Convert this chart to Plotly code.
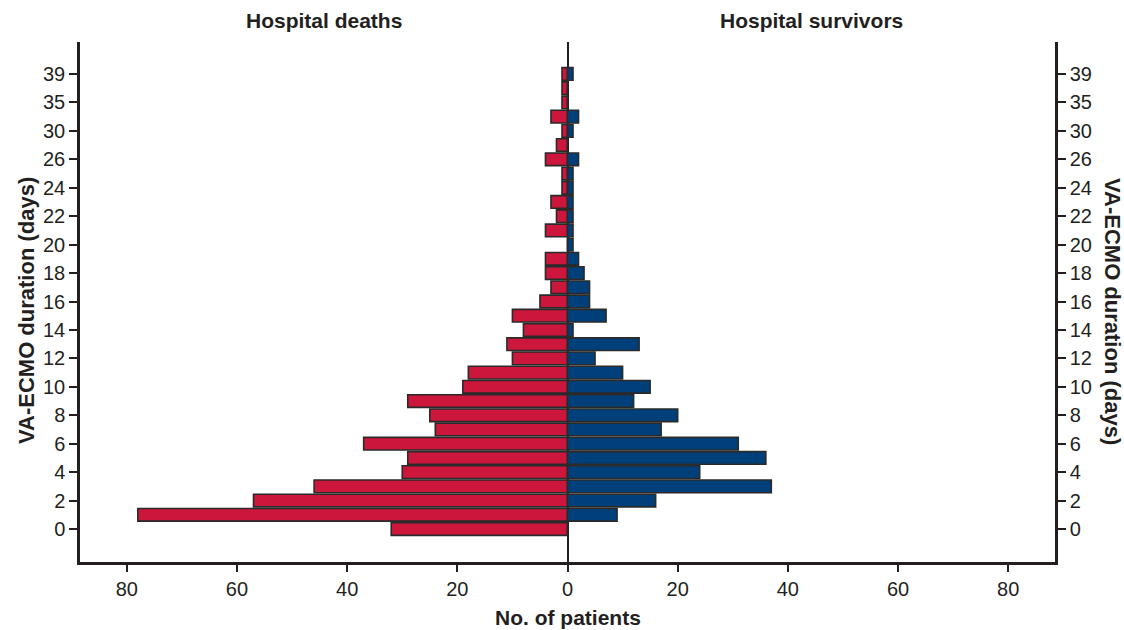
import plotly.graph_objects as go

# VA-ECMO duration categories (days), bottom to top
durations = ["0", "1", "2", "3", "4", "5", "6", "7", "8", "9", "10", "11", "12",
             "13", "14", "15", "16", "17", "18", "19", "20", "21", "22", "23",
             "24", "25", "26", "28", "30", "33", "35", "37", "39"]

# Number of patients per duration
deaths = [32, 78, 57, 46, 30, 29, 37, 24, 25, 29, 19, 18, 10, 11, 8, 10, 5, 3,
          4, 4, 0, 4, 2, 3, 1, 1, 4, 2, 1, 3, 1, 1, 1]
survivors = [0, 9, 16, 37, 24, 36, 31, 17, 20, 12, 15, 10, 5, 13, 1, 7, 4, 4,
             3, 2, 1, 1, 1, 1, 1, 1, 2, 0, 1, 2, 0, 0, 1]

x_ticks = [-80, -60, -40, -20, 0, 20, 40, 60, 80]
x_ticktext = [str(abs(v)) for v in x_ticks]
y_ticks = durations[::2]

RED = "#CC163C"
BLUE = "#00407A"
INK = "#231F20"
FONT = "Liberation Sans, Arial, Helvetica, sans-serif"

fig = go.Figure()

# Deaths grow to the left (negative side of the shared axis)
fig.add_trace(go.Bar(
    y=durations, x=[-v for v in deaths], orientation="h",
    name="Hospital deaths", yaxis="y",
    marker=dict(color=RED, line=dict(color="#2a2a2a", width=1.6)),
    customdata=deaths,
    hovertemplate="%{y} days: %{customdata}<extra>Hospital deaths</extra>",
))

# Survivors grow to the right
fig.add_trace(go.Bar(
    y=durations, x=survivors, orientation="h",
    name="Hospital survivors", yaxis="y2",
    marker=dict(color=BLUE, line=dict(color="#2a2a2a", width=1.6)),
    hovertemplate="%{y} days: %{x}<extra>Hospital survivors</extra>",
))

y_common = dict(
    type="category",
    categoryorder="array",
    categoryarray=durations,
    range=[-2.32, 34.25],
    tickvals=y_ticks,
    ticktext=y_ticks,
    showline=True, linecolor=INK, linewidth=2.5,
    ticks="outside", ticklen=8, tickwidth=1.5, tickcolor=INK,
    showgrid=False, zeroline=False,
    tickfont=dict(family=FONT, size=20, color=INK),
)

fig.update_layout(
    width=1124, height=630,
    margin=dict(l=80, r=69, t=42, b=68),
    paper_bgcolor="white", plot_bgcolor="white",
    showlegend=False,
    barmode="overlay",
    bargap=0.11,
    font=dict(family=FONT, size=20, color=INK),
    xaxis=dict(
        range=[-88.5, 88.5],
        tickvals=x_ticks, ticktext=x_ticktext,
        showline=True, linecolor=INK, linewidth=2.5,
        ticks="outside", ticklen=7, tickwidth=1.5, tickcolor=INK,
        showgrid=False,
        zeroline=True, zerolinecolor=INK, zerolinewidth=2,
        tickfont=dict(family=FONT, size=20, color=INK),
    ),
    yaxis=dict(side="left", **y_common),
    yaxis2=dict(side="right", overlaying="y", anchor="x", **y_common),
)


def bold(size):
    return dict(family=FONT, size=size, color=INK)


fig.add_annotation(text="<b>Hospital deaths</b>", xref="paper", yref="paper",
                   x=0.25, y=1, xanchor="center", yanchor="bottom", yshift=8,
                   showarrow=False, font=bold(21))
fig.add_annotation(text="<b>Hospital survivors</b>", xref="paper", yref="paper",
                   x=0.75, y=1, xanchor="center", yanchor="bottom", yshift=8,
                   showarrow=False, font=bold(21))
fig.add_annotation(text="<b>No. of patients</b>", xref="paper", yref="paper",
                   x=0.5, y=0, xanchor="center", yanchor="middle", yshift=-55,
                   showarrow=False, font=bold(21))
fig.add_annotation(text="<b>VA-ECMO duration (days)</b>", xref="paper", yref="paper",
                   x=0, y=0.5, xanchor="center", yanchor="middle",
                   xshift=-54, yshift=-9,
                   textangle=-90, showarrow=False, font=bold(22))
fig.add_annotation(text="<b>VA-ECMO duration (days)</b>", xref="paper", yref="paper",
                   x=1, y=0.5, xanchor="center", yanchor="middle",
                   xshift=58, yshift=-9,
                   textangle=90, showarrow=False, font=bold(22))

fig.write_html("out.html")
